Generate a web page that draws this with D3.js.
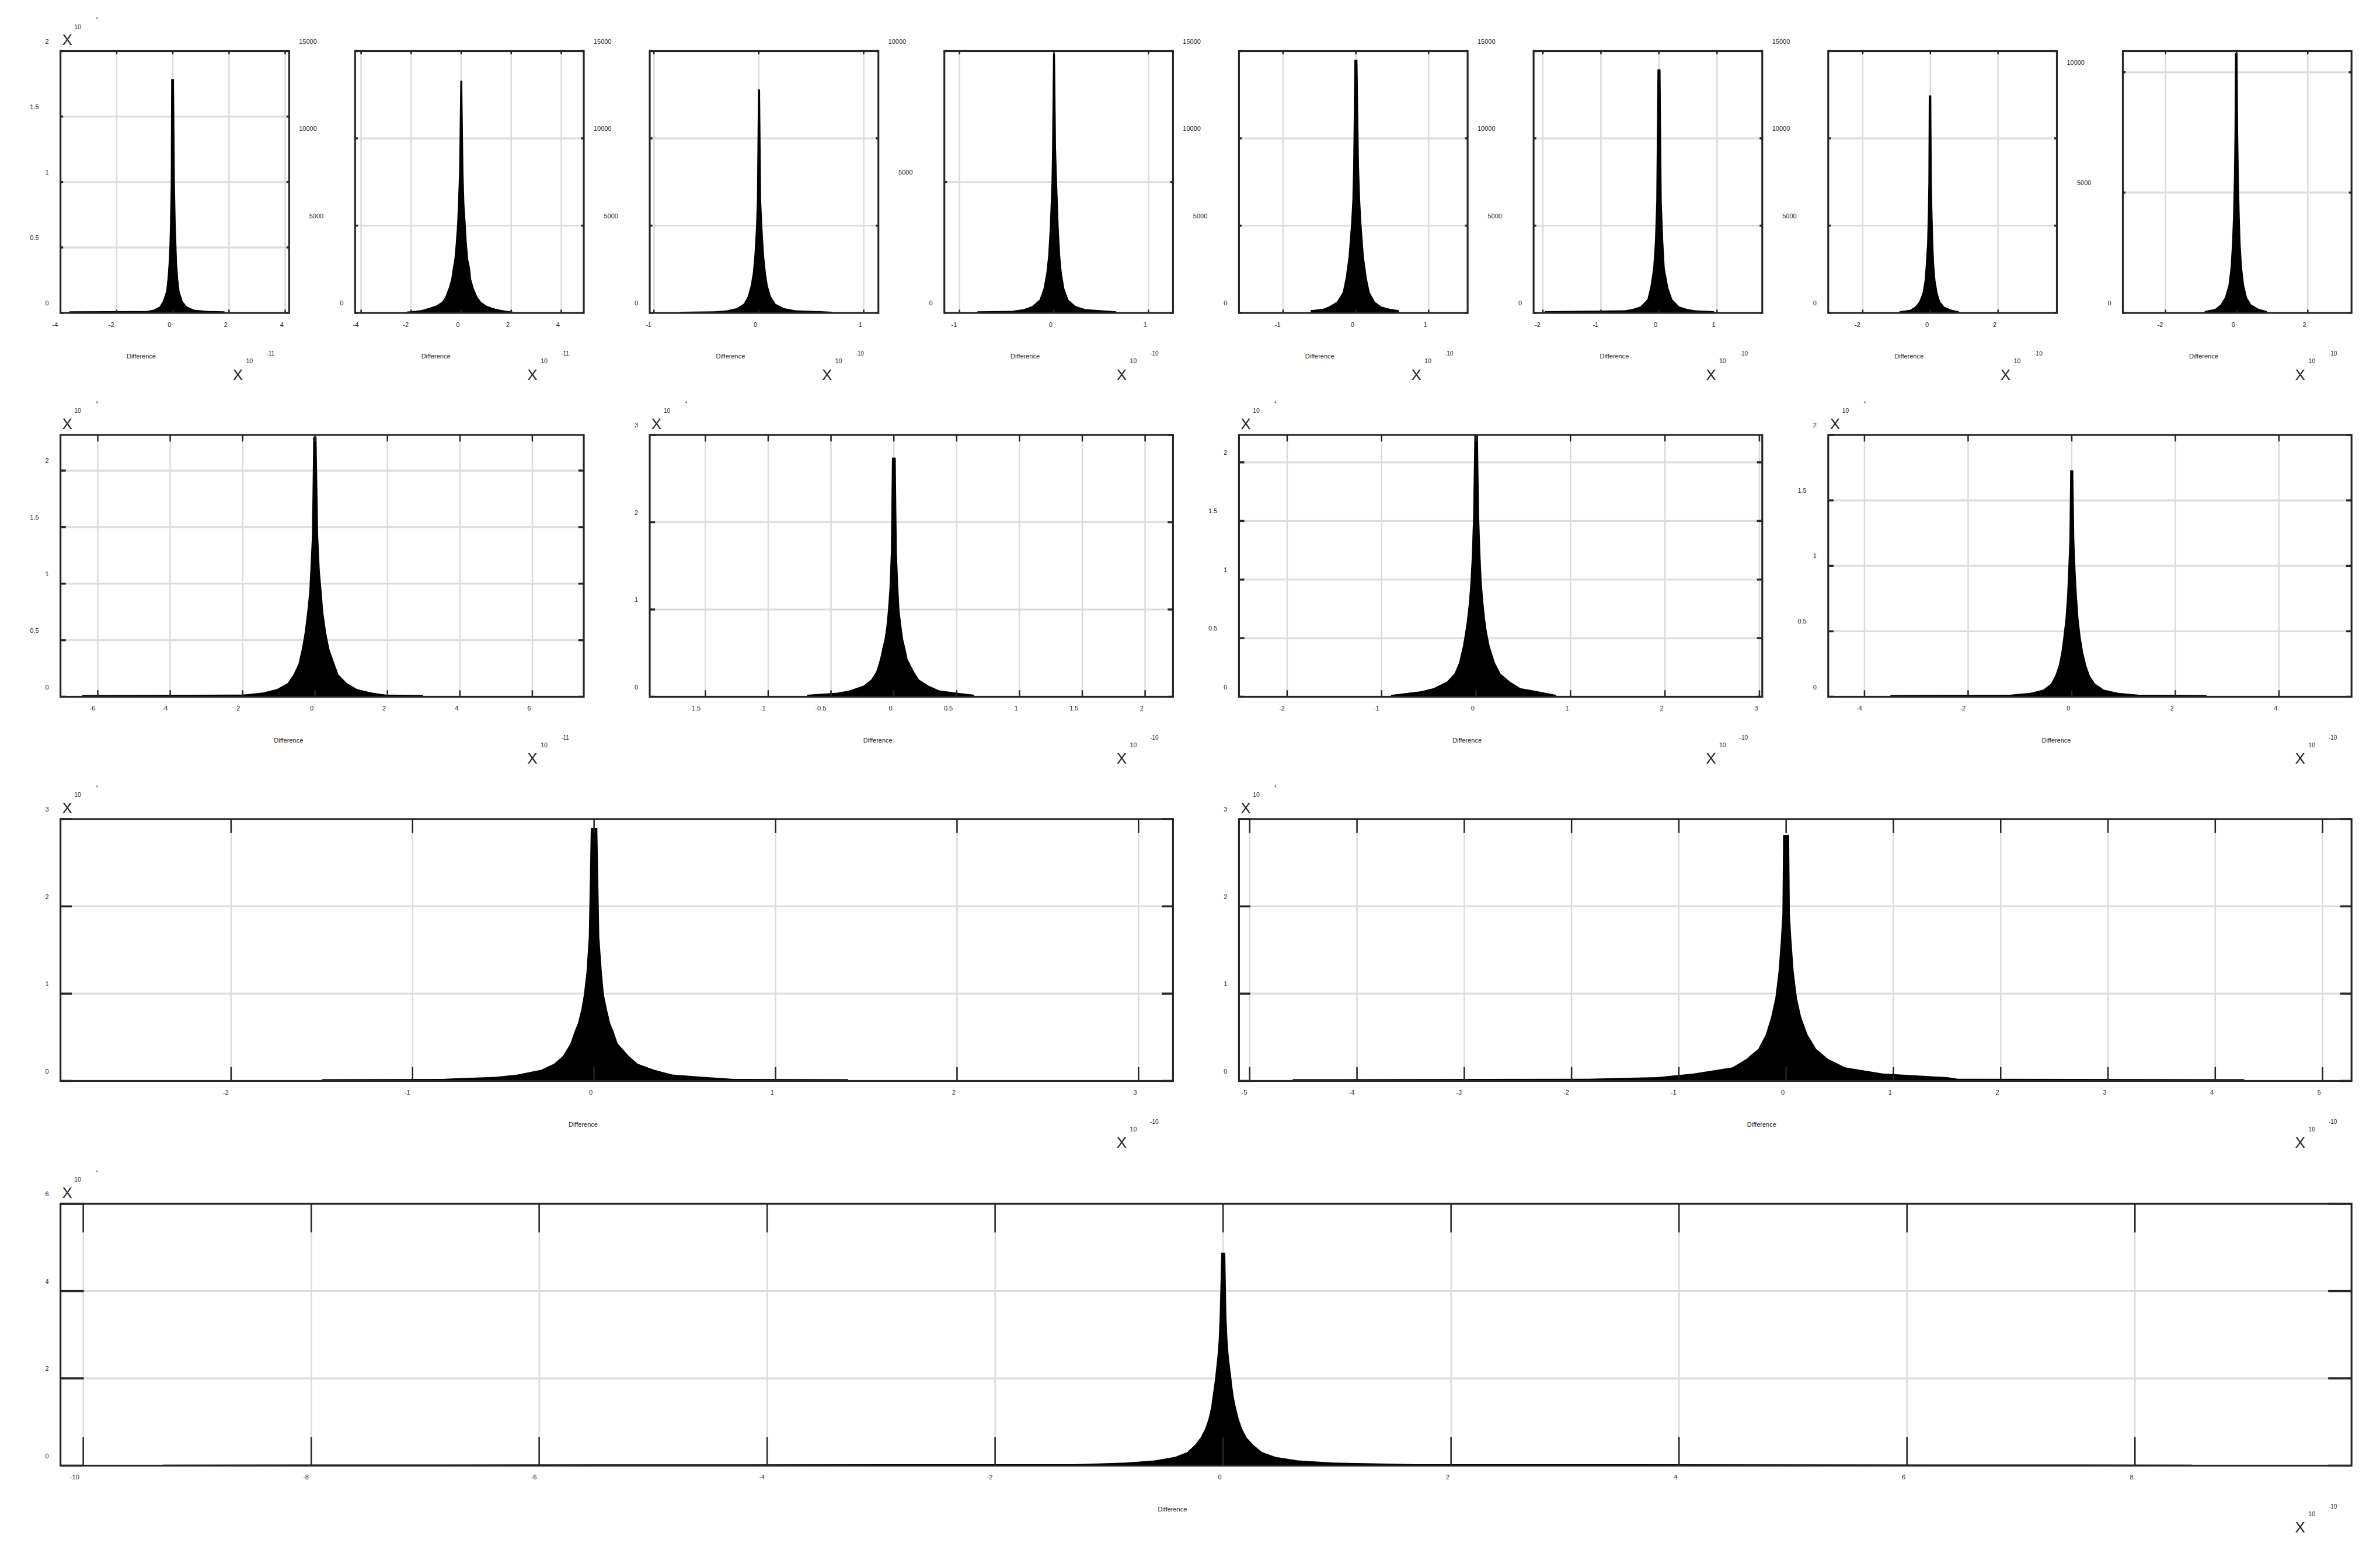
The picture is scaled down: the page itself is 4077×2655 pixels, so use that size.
<!DOCTYPE html>
<html><head><meta charset="utf-8">
<script src="https://cdn.jsdelivr.net/npm/d3@7"></script>
<style>body{margin:0;background:#fff}svg{display:block}</style>
</head><body><svg id="fig" width="4077" height="2655"></svg>
<script>
// ---------------- DATA ----------------
const xLabelText = "Difference";
// each histogram: [count level (axis units), left x, right x] = extent of the bars reaching that level
const hist01 = [[0.012,-3.68,1.84],[0.014,-0.95,1.28],[0.025,-0.69,0.76],[0.049,-0.47,0.5],[0.088,-0.36,0.35],[0.165,-0.24,0.24],[0.26,-0.19,0.19],[0.38,-0.15,0.15],[0.52,-0.12,0.127],[0.70,-0.1,0.1],[0.98,-0.075,0.075],[1.786,-0.06,0.04]];
const hist02 = [[73,-2.18,2.06],[157,-1.6,1.64],[257,-1.35,1.32],[408,-1.02,1.02],[625,-0.77,0.8],[913,-0.64,0.65],[1420,-0.5,0.5],[1929,-0.4,0.4],[2507,-0.34,0.36],[3088,-0.27,0.28],[4100,-0.21,0.22],[5117,-0.16,0.18],[6206,-0.13,0.13],[8045,-0.084,0.091],[13300,-0.035,0.042]];
const hist03 = [[70,-0.75,0.7],[90,-0.42,0.62],[150,-0.3,0.35],[280,-0.21,0.24],[520,-0.145,0.16],[950,-0.105,0.115],[1550,-0.078,0.086],[2250,-0.058,0.068],[3300,-0.042,0.05],[4900,-0.027,0.034],[6500,-0.018,0.022],[12800,-0.008,0.012]];
const hist04 = [[60,-0.81,0.66],[80,-0.45,0.6],[143,-0.317,0.33],[261,-0.23,0.23],[503,-0.153,0.153],[939,-0.11,0.11],[1522,-0.081,0.083],[2199,-0.061,0.066],[3265,-0.044,0.05],[5010,-0.026,0.033],[6268,-0.02,0.022],[9904,-0.01,0.011]];
const hist05 = [[163,-0.62,0.59],[233,-0.45,0.47],[370,-0.37,0.35],[640,-0.26,0.26],[1187,-0.18,0.19],[2000,-0.14,0.15],[3228,-0.1,0.11],[5202,-0.064,0.075],[6493,-0.048,0.059],[8440,-0.037,0.043],[14497,-0.02,0.022]];
const hist06 = [[100,-1.97,0.95],[153,-0.59,0.62],[233,-0.45,0.48],[370,-0.32,0.35],[777,-0.2,0.23],[1457,-0.15,0.16],[2548,-0.1,0.1],[4045,-0.07,0.075],[6359,-0.047,0.048],[13953,-0.026,0.027]];
const hist07 = [[100,-0.91,0.84],[173,-0.6,0.63],[360,-0.45,0.41],[650,-0.33,0.29],[1157,-0.23,0.21],[1877,-0.17,0.15],[2817,-0.134,0.11],[3973,-0.098,0.086],[5710,-0.074,0.062],[7517,-0.06,0.043],[12460,-0.048,0.026]];
const hist08 = [[80,-0.9,0.85],[170,-0.6,0.62],[350,-0.45,0.41],[640,-0.33,0.29],[1150,-0.23,0.21],[1900,-0.17,0.15],[2900,-0.13,0.11],[4100,-0.1,0.085],[5800,-0.075,0.06],[7600,-0.06,0.042],[10800,-0.045,0.025]];
const hist09 = [[0.015,-6.43,2.98],[0.02,-2.0,1.95],[0.037,-1.44,1.56],[0.068,-1.05,1.16],[0.12,-0.76,0.88],[0.195,-0.6,0.65],[0.29,-0.46,0.54],[0.415,-0.37,0.4],[0.56,-0.29,0.31],[0.74,-0.22,0.23],[0.93,-0.16,0.18],[1.12,-0.13,0.13],[1.43,-0.086,0.086],[2.30,-0.05,0.04]];
const hist10 = [[0.024,-0.69,0.64],[0.047,-0.45,0.5],[0.074,-0.35,0.36],[0.128,-0.24,0.275],[0.197,-0.18,0.2],[0.29,-0.14,0.16],[0.43,-0.11,0.11],[0.57,-0.089,0.089],[0.66,-0.074,0.074],[0.81,-0.059,0.06],[0.99,-0.047,0.045],[1.24,-0.035,0.036],[1.65,-0.024,0.024],[2.74,-0.015,0.015]];
const hist11 = [[0.016,-0.9,0.85],[0.047,-0.58,0.65],[0.074,-0.45,0.47],[0.128,-0.31,0.36],[0.197,-0.23,0.26],[0.29,-0.18,0.2],[0.43,-0.14,0.145],[0.55,-0.115,0.115],[0.66,-0.095,0.096],[0.8,-0.076,0.078],[0.97,-0.06,0.06],[1.2,-0.045,0.047],[1.55,-0.031,0.032],[2.23,-0.018,0.02]];
const hist12 = [[0.013,-3.5,2.6],[0.016,-1.2,1.3],[0.03,-0.8,0.9],[0.055,-0.55,0.62],[0.1,-0.4,0.45],[0.16,-0.32,0.35],[0.24,-0.25,0.28],[0.34,-0.2,0.22],[0.46,-0.16,0.17],[0.6,-0.12,0.13],[0.77,-0.09,0.1],[0.95,-0.07,0.075],[1.2,-0.045,0.05],[1.73,-0.03,0.03]];
const hist13 = [[0.02,-1.5,1.4],[0.024,-0.83,0.77],[0.047,-0.54,0.6],[0.074,-0.42,0.43],[0.128,-0.29,0.33],[0.197,-0.22,0.24],[0.29,-0.17,0.19],[0.43,-0.13,0.13],[0.57,-0.107,0.107],[0.66,-0.089,0.089],[0.81,-0.071,0.072],[0.99,-0.056,0.054],[1.24,-0.042,0.043],[1.65,-0.029,0.029],[2.9,-0.018,0.018]];
const hist14 = [[0.02,-4.6,4.27],[0.025,-1.84,1.6],[0.043,-1.2,1.5],[0.085,-0.86,0.9],[0.155,-0.5,0.55],[0.253,-0.37,0.39],[0.366,-0.26,0.28],[0.53,-0.19,0.2],[0.73,-0.14,0.14],[0.955,-0.1,0.1],[1.26,-0.07,0.07],[1.6,-0.05,0.05],[1.91,-0.035,0.035],[2.82,-0.028,0.028]];
const hist15 = [[0.025,-9.3,8.5],[0.035,-1.3,1.69],[0.07,-0.853,0.969],[0.12,-0.598,0.656],[0.2,-0.422,0.46],[0.31,-0.314,0.342],[0.48,-0.245,0.263],[0.65,-0.196,0.205],[0.85,-0.157,0.166],[1.07,-0.128,0.137],[1.35,-0.104,0.111],[1.57,-0.093,0.094],[1.83,-0.079,0.08],[2.02,-0.069,0.072],[2.18,-0.063,0.064],[2.52,-0.049,0.049],[2.86,-0.039,0.039],[3.42,-0.03,0.029],[4.88,-0.016,0.019]];

const histograms = [hist01,hist02,hist03,hist04,hist05,hist06,hist07,hist08,hist09,hist10,hist11,hist12,hist13,hist14,hist15];
const xDomains = [[-4,4.14],[-4.24,4.9],[-1.04,1.14],[-1.16,1.26],[-1.605,1.535],[-2.16,1.78],[-3.02,3.74],[-3.2,3.23],
                  [-7.03,7.42],[-1.943,2.222],[-2.51,3.03],[-4.7,5.4],
                  [-2.94,3.19],[-5.1,5.27],
                  [-10.2,9.9]];
const yMaxes = [2,15000,15000,10000,15000,15000,15000,10880, 2.315,3,2.234,2, 3,3, 6];
const xTickVals = [[-4,-2,0,2,4],[-4,-2,0,2,4],[-1,0,1],[-1,0,1],[-1,0,1],[-2,-1,0,1],[-2,0,2],[-2,0,2],
                   [-6,-4,-2,0,2,4,6],[-1.5,-1,-0.5,0,0.5,1,1.5,2],[-2,-1,0,1,2,3],[-4,-2,0,2,4],
                   [-2,-1,0,1,2,3],[-5,-4,-3,-2,-1,0,1,2,3,4,5],
                   [-10,-8,-6,-4,-2,0,2,4,6,8]];
const yTickVals = [[0,0.5,1,1.5,2],[0,5000,10000,15000],[0,5000,10000,15000],[0,5000,10000],[0,5000,10000,15000],[0,5000,10000,15000],[0,5000,10000,15000],[0,5000,10000],
                   [0,0.5,1,1.5,2],[0,1,2,3],[0,0.5,1,1.5,2],[0,0.5,1,1.5,2],
                   [0,1,2,3],[0,1,2,3],
                   [0,2,4,6]];
const yExponents = [4,null,null,null,null,null,null,null, 4,4,4,4, 4,4, 4];
const xExponents = [-11,-11,-10,-10,-10,-10,-10,-10, -11,-10,-10,-10, -10,-10, -10];

// ---------------- LAYOUT / STYLE ----------------
const W_FIG = 4077, H_FIG = 2655;
const left0 = 103.6, pitch = 504.7, colW = 391.7, boxH = 448.5;
const rowTops = [87.5, 745, 1403, 2062];
const rowSpans = [1, 2, 4, 8];
const ink = "#262626", gridCol = "#dcdcdc";
const font = "'Liberation Sans', Arial, Helvetica, sans-serif";
// labels keep the anchoring of a much wider original font
const origW = s => Array.from(s).reduce((a, c) => a + (c === "." ? 8.75 : c === "-" ? 10.5 : 17.5), 0);

// outline of a histogram from its level extents: left flank up, flat top, right flank down
function outline(levels) {
  const s = levels.slice().sort((a, b) => a[0] - b[0]);
  const pts = [[s[0][1], 0]];
  s.forEach(d => pts.push([d[1], d[0]]));
  const top = s[s.length - 1];
  pts.push([top[2], top[0]]);
  for (let i = s.length - 2; i >= 0; i--) pts.push([s[i][2], s[i][0]]);
  pts.push([s[0][2], 0]);
  return pts;
}

const svg = d3.select("#fig");
svg.append("rect").attr("width", W_FIG).attr("height", H_FIG).attr("fill", "#fff");

let idx = 0;
rowSpans.forEach((span, r) => {
  const n = 8 / span;
  for (let i = 0; i < n; i++, idx++) {
    const L = left0 + i * span * pitch;
    const W = (span - 1) * pitch + colW;
    const T = rowTops[r], B = T + boxH, R = L + W;
    const x = d3.scaleLinear().domain(xDomains[idx]).range([L, R]);
    const y = d3.scaleLinear().domain([0, yMaxes[idx]]).range([B, T]).clamp(true);
    const g = svg.append("g");
    const xt = xTickVals[idx], yt = yTickVals[idx];
    const tlx = 0.0125 * Math.max(W, boxH), tly = 0.0102 * Math.max(W, boxH);

    // grid
    g.append("g").selectAll("line").data(xt).join("line")
      .attr("x1", d => x(d)).attr("x2", d => x(d)).attr("y1", T).attr("y2", B)
      .attr("stroke", gridCol).attr("stroke-width", 2.5);
    g.append("g").selectAll("line").data(yt).join("line")
      .attr("x1", L).attr("x2", R).attr("y1", d => y(d)).attr("y2", d => y(d))
      .attr("stroke", gridCol).attr("stroke-width", 3.2);

    // histogram
    const area = d3.area().x(d => x(d[0])).y0(y(0)).y1(d => y(d[1])).curve(d3.curveLinear);
    g.append("path").datum(outline(histograms[idx])).attr("d", area).attr("fill", "#000");

    // ticks (inside, on all four sides)
    const tk = g.append("g").attr("stroke", ink);
    tk.selectAll(".xb").data(xt).join("line").attr("class", "xb")
      .attr("x1", d => x(d)).attr("x2", d => x(d)).attr("y1", B).attr("y2", B - tlx).attr("stroke-width", 2.5);
    tk.selectAll(".xt").data(xt).join("line").attr("class", "xt")
      .attr("x1", d => x(d)).attr("x2", d => x(d)).attr("y1", T).attr("y2", T + tlx).attr("stroke-width", 2.5);
    tk.selectAll(".yl").data(yt).join("line").attr("class", "yl")
      .attr("x1", L).attr("x2", L + tly).attr("y1", d => y(d)).attr("y2", d => y(d)).attr("stroke-width", 3.5);
    tk.selectAll(".yr").data(yt).join("line").attr("class", "yr")
      .attr("x1", R).attr("x2", R - tly).attr("y1", d => y(d)).attr("y2", d => y(d)).attr("stroke-width", 3.5);

    // box
    g.append("rect").attr("x", L).attr("y", T).attr("width", W).attr("height", boxH)
      .attr("fill", "none").attr("stroke", ink).attr("stroke-width", 3.2);

    // tick labels
    const lab = g.append("g").attr("font-family", font).attr("font-size", 11).attr("fill", ink);
    lab.selectAll(".xl").data(xt).join("text").attr("class", "xl")
      .attr("x", d => x(d) - origW(String(d)) / 2).attr("y", B + 23.5).text(d => String(d));
    lab.selectAll(".ylab").data(yt).join("text").attr("class", "ylab")
      .attr("x", d => L - 8.6 - origW(String(d))).attr("y", d => y(d) - 13).text(d => String(d));

    // x label
    lab.append("text").attr("x", (L + R) / 2 - 57.5).attr("y", B + 78).attr("text-anchor", "middle").text(xLabelText);

    // x exponent (bottom right)
    const ex = g.append("g").attr("font-family", font).attr("fill", ink).attr("text-anchor", "middle");
    ex.append("text").attr("x", R - 88).attr("y", B + 114.5).attr("font-size", 26).text("X");
    ex.append("text").attr("x", R - 68).attr("y", B + 86.3).attr("font-size", 10.5).text("10");
    ex.append("text").attr("x", R - 32).attr("y", B + 73.3).attr("font-size", 10).text(String(xExponents[idx]));

    // y exponent (top left)
    if (yExponents[idx] !== null) {
      ex.append("text").attr("x", L + 11.5).attr("y", T - 10.5).attr("font-size", 26).text("X");
      ex.append("text").attr("x", L + 29.5).attr("y", T - 37.7).attr("font-size", 10.5).text("10");
      ex.append("text").attr("x", L + 62.5).attr("y", T - 54.5).attr("font-size", 5.5).text(String(yExponents[idx]));
    }
  }
});
</script>
</body></html>
